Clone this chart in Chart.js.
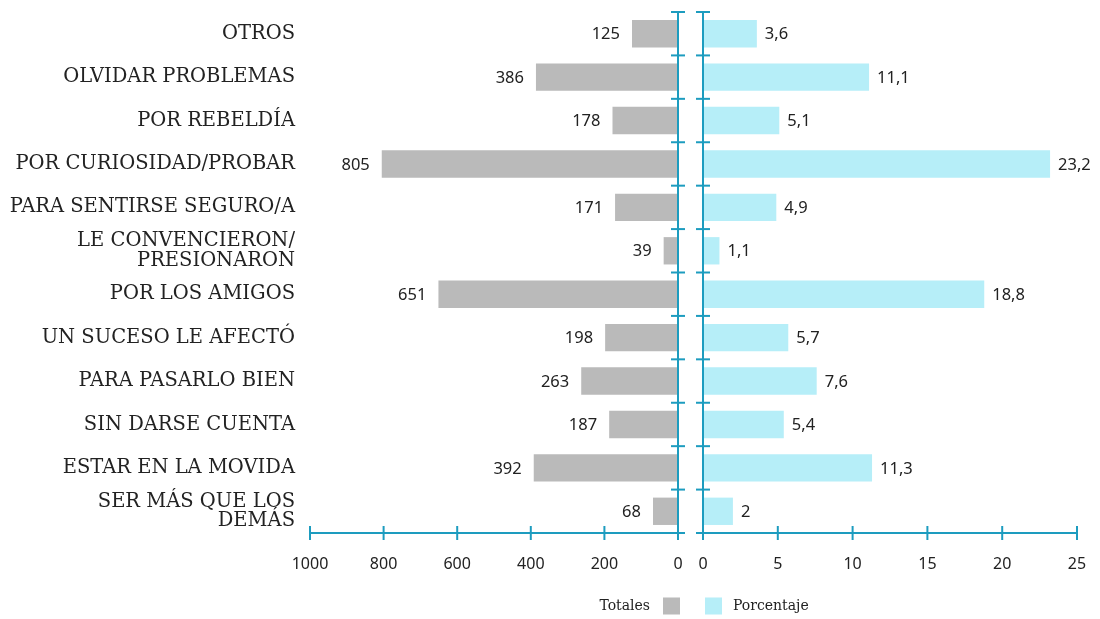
<!DOCTYPE html>
<html><head><meta charset="utf-8">
<script src="https://cdn.jsdelivr.net/npm/chart.js@4/dist/chart.umd.min.js"></script>
<style>
html,body{margin:0;padding:0;background:#fff;}
#wrap{position:relative;width:1100px;height:619px;}
#c1{position:absolute;left:0;top:0;}
#c2{position:absolute;left:690px;top:0;}
</style></head>
<body><div id="wrap">
<canvas id="c1" width="690" height="619"></canvas>
<canvas id="c2" width="410" height="619"></canvas>
</div>
<script>
const categories = [
  'OTROS', 'OLVIDAR PROBLEMAS', 'POR REBELDÍA', 'POR CURIOSIDAD/PROBAR',
  'PARA SENTIRSE SEGURO/A', ['LE CONVENCIERON/', 'PRESIONARON'], 'POR LOS AMIGOS',
  'UN SUCESO LE AFECTÓ', 'PARA PASARLO BIEN', 'SIN DARSE CUENTA',
  'ESTAR EN LA MOVIDA', ['SER MÁS QUE LOS', 'DEMÁS']
];
const totales = [125, 386, 178, 805, 171, 39, 651, 198, 263, 187, 392, 68];
const porcentaje = [3.6, 11.1, 5.1, 23.2, 4.9, 1.1, 18.8, 5.7, 7.6, 5.4, 11.3, 2];
const totalesTicks = [0, 200, 400, 600, 800, 1000];
const porcentajeTicks = [0, 5, 10, 15, 20, 25];

const AXIS = '#1d9cbf';
const GRAY = '#bababa';
const CYAN = '#b6eef8';
const SERIF = "'DejaVu Serif', serif";
const SANS = "'Noto Sans', sans-serif";
const TXT = '#222';

function line(ctx, x1, y1, x2, y2) { ctx.beginPath(); ctx.moveTo(x1, y1); ctx.lineTo(x2, y2); ctx.stroke(); }
function noPad(scale) { scale.paddingLeft = 0; scale.paddingRight = 0; scale.paddingTop = 0; scale.paddingBottom = 0; }

const axesPlugin = {
  id: 'axesCross',
  afterDatasetsDraw(chart, args, opts) {
    const {ctx, chartArea, scales: {x, y}} = chart;
    const x0 = x.getPixelForValue(0);
    const xEnd = x.getPixelForValue(opts.max);
    const n = chart.data.labels.length;
    const h = 7;
    ctx.save();
    ctx.strokeStyle = AXIS; ctx.lineWidth = 2;
    line(ctx, x0, chartArea.top, x0, chartArea.bottom + 5);
    for (let i = 0; i < n; i++) {
      const yy = y.getPixelForValue(i - 0.5);
      line(ctx, x0 - h, yy, x0 + h, yy);
    }
    const yb = chartArea.bottom;
    if (opts.side === 'left') line(ctx, xEnd, yb, x0 + h, yb);
    else line(ctx, x0 - h, yb, xEnd, yb);
    x.ticks.forEach(t => {
      const px = x.getPixelForValue(t.value);
      line(ctx, px, yb - h, px, yb + h);
    });
    ctx.restore();
  }
};

const valuePlugin = {
  id: 'values',
  afterDatasetsDraw(chart, args, opts) {
    const {ctx} = chart;
    const meta = chart.getDatasetMeta(0);
    const data = chart.data.datasets[0].data;
    ctx.save();
    ctx.font = "16.5px " + SANS;
    ctx.fillStyle = TXT;
    ctx.textBaseline = 'middle';
    meta.data.forEach((bar, i) => {
      const txt = String(data[i]).replace('.', ',');
      if (opts.side === 'left') { ctx.textAlign = 'right'; ctx.fillText(txt, bar.x - 12, bar.y + 1); }
      else { ctx.textAlign = 'left'; ctx.fillText(txt, bar.x + 8, bar.y + 1); }
    });
    ctx.restore();
  }
};

const legendPlugin = {
  id: 'sideLegend',
  afterDraw(chart, args, opts) {
    const {ctx, chartArea, scales: {x}} = chart;
    const ds = chart.data.datasets[0];
    const x0 = x.getPixelForValue(0);
    const yc = chartArea.bottom + 73;
    const box = 17;
    ctx.save();
    ctx.font = "14px " + SERIF;
    ctx.fillStyle = TXT;
    ctx.textBaseline = 'middle';
    if (opts.side === 'left') {
      ctx.fillStyle = ds.backgroundColor;
      ctx.fillRect(x0 + 2 - box, yc - box / 2, box, box);
      ctx.fillStyle = TXT; ctx.textAlign = 'right';
      ctx.fillText(ds.label, x0 - 28, yc);
    } else {
      ctx.fillStyle = ds.backgroundColor;
      ctx.fillRect(x0 + 2, yc - box / 2, box, box);
      ctx.fillStyle = TXT; ctx.textAlign = 'left';
      ctx.fillText(ds.label, x0 + 30, yc);
    }
    ctx.restore();
  }
};

function xAxis(ticksArr, reverse) {
  return {
    type: 'linear', min: 0, max: ticksArr[ticksArr.length - 1], reverse: reverse,
    afterBuildTicks(scale) { scale.ticks = ticksArr.map(v => ({value: v})); },
    grid: {display: false, drawTicks: false},
    border: {display: false},
    ticks: {font: {family: SANS, size: 16}, color: TXT, padding: 22, callback: v => String(v)},
    afterFit(scale) { scale.height = 86; noPad(scale); }
  };
}

new Chart(document.getElementById('c1'), {
  type: 'bar',
  data: {labels: categories, datasets: [{label: 'Totales', data: totales, backgroundColor: GRAY, borderWidth: 0,
    barPercentage: 0.63, categoryPercentage: 1}]},
  options: {
    responsive: false, animation: false, indexAxis: 'y',
    layout: {padding: {top: 12, right: 12, left: 0, bottom: 0}},
    scales: {
      x: xAxis(totalesTicks, true),
      y: {
        grid: {display: false, drawTicks: false}, border: {display: false},
        ticks: {font: {family: SERIF, size: 19.5, lineHeight: 1.0}, color: TXT, padding: 15, autoSkip: false},
        afterFit(scale) { scale.width = 310; noPad(scale); }
      }
    },
    plugins: {
      legend: {display: false},
      tooltip: {enabled: false},
      axesCross: {side: 'left', max: 1000},
      values: {side: 'left'},
      sideLegend: {side: 'left'}
    }
  },
  plugins: [axesPlugin, valuePlugin, legendPlugin]
});

new Chart(document.getElementById('c2'), {
  type: 'bar',
  data: {labels: categories, datasets: [{label: 'Porcentaje', data: porcentaje, backgroundColor: CYAN, borderWidth: 0,
    barPercentage: 0.63, categoryPercentage: 1}]},
  options: {
    responsive: false, animation: false, indexAxis: 'y',
    layout: {padding: {top: 12, right: 23, left: 13, bottom: 0}},
    scales: {
      x: xAxis(porcentajeTicks, false),
      y: {display: false}
    },
    plugins: {
      legend: {display: false},
      tooltip: {enabled: false},
      axesCross: {side: 'right', max: 25},
      values: {side: 'right'},
      sideLegend: {side: 'right'}
    }
  },
  plugins: [axesPlugin, valuePlugin, legendPlugin]
});
</script>
</body></html>
